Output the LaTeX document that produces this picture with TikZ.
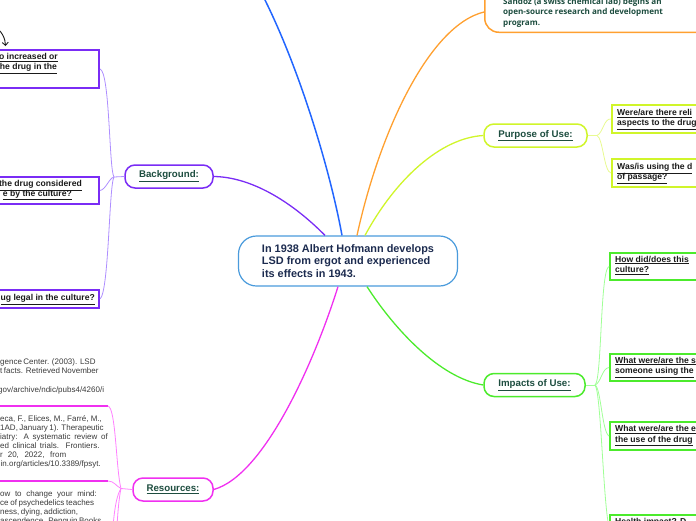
\documentclass[tikz,border=0pt]{standalone}
\usepackage{fontspec}
\setmainfont{Liberation Sans}
\newfontfamily\osans{Open Sans}
\usetikzlibrary{arrows.meta}
\definecolor{cblue}{HTML}{2266FF}
\definecolor{cpurple}{HTML}{7A2CF5}
\definecolor{cpurpleL}{HTML}{AE8EFF}
\definecolor{corange}{HTML}{FFA030}
\definecolor{cyellow}{HTML}{D0F52A}
\definecolor{cyellowL}{HTML}{E8FA90}
\definecolor{cgreen}{HTML}{4CEB2C}
\definecolor{cgreenL}{HTML}{A0FF96}
\definecolor{cmag}{HTML}{F030F0}
\definecolor{cmagL}{HTML}{FF80FF}
\definecolor{cnavy}{HTML}{1C2B4F}
\definecolor{cdkgreen}{HTML}{1D4D3F}
\definecolor{ccentral}{HTML}{4A9BDC}
\definecolor{ctext}{HTML}{1A1A1A}
\definecolor{cref}{HTML}{3A3A3A}
\newcommand{\refline}[2]{\makebox[#1pt][s]{#2}}
\begin{document}
\begin{tikzpicture}[x=1pt,y=-1pt,
  central/.style={draw=ccentral, line width=1.2pt, rounded corners=18pt, fill=white,
    minimum width=219, minimum height=50, inner sep=0, align=left, text=cnavy,
    font=\bfseries\fontsize{10.9}{12.6}\selectfont},
  branch/.style={line width=1.5pt, rounded corners=10pt, fill=white, minimum height=23,
    inner sep=0, text=cdkgreen, font=\bfseries\fontsize{9.7}{11}\selectfont},
  childbox/.style={line width=2pt, fill=white, inner sep=0},
  qtext/.style={inner sep=0, text=ctext, font=\bfseries\fontsize{8.6}{10.5}\selectfont},
  reftext/.style={inner sep=0, text=cref, font=\fontsize{8}{9}\selectfont, anchor=base west},
  mainline/.style={line width=1.3pt},
  subline/.style={line width=0.8pt},
]
\useasboundingbox (0,0) rectangle (696,520);
\clip (0,0) rectangle (696,520);

% ---------- central ----------
\node[central] (c) at (348,261) {In 1938 Albert Hofmann develops\\LSD from ergot and experienced\\its effects in 1943.};

% ---------- top orange node ----------
\node[draw=corange, line width=1.5pt, rounded corners=14pt, fill=white, anchor=south west,
  minimum width=260, minimum height=60, inner sep=0] (sz) at (484,33) {};
\node[inner sep=0, anchor=base west, align=left, text=cdkgreen,
  font=\osans\bfseries\fontsize{8.1}{10.8}\selectfont] (szt) at (503,25.6)
  {Sandoz (a swiss chemical lab) begins an\\open-source research and development\\program.};
\coordinate (topb) at (264,-2);

% ---------- branch nodes ----------
\node[branch, draw=cpurple, minimum width=88] (bg) at (169,176.5) {\underline{Background:}};
\node[branch, draw=cyellow, minimum width=103] (pu) at (535.5,135.5) {\underline{Purpose of Use:}};
\node[branch, draw=cgreen, minimum width=101] (im) at (534.5,385) {\underline{Impacts of Use:}};
\node[branch, draw=cmag, minimum width=80] (rs) at (173,489.5) {\underline{Resources:}};

% ---------- main connectors ----------
\draw[mainline, cpurple] ([xshift=-23pt]c.north) .. controls (290,200) and (250,177) .. (bg.east);
\draw[line width=1.5pt, cblue] ([xshift=-6pt]c.north) .. controls (330,170) and (300,70) .. (topb);
\draw[mainline, corange] ([xshift=9pt]c.north) .. controls (380,130) and (430,25) .. ([yshift=21pt]sz.south west);
\draw[mainline, cyellow] ([xshift=17pt]c.north) .. controls (395,180) and (440,138) .. (pu.west);
\draw[mainline, cgreen] ([xshift=19pt]c.south) .. controls (395,330) and (440,378) .. (im.west);
\draw[mainline, cmag] ([xshift=-10pt]c.south) .. controls (315,360) and (265,475) .. (rs.east);

% ---------- background children ----------
\node[childbox, draw=cpurple, anchor=north east, minimum width=130, minimum height=38] (bg1) at (100,49) {};
\node[childbox, draw=cpurple, anchor=north east, minimum width=130, minimum height=27] (bg2) at (100,176) {};
\node[childbox, draw=cpurple, anchor=north east, minimum width=130, minimum height=18] (bg3) at (100,289) {};
\node[qtext, anchor=base east] (bg1a) at (58,59.5) {\underline{o increased or}};
\node[qtext, anchor=base east] (bg1b) at (57,69.5) {\underline{he drug in the}};
\node[qtext, anchor=base east] (bg2a) at (82,186.5) {\underline{the drug considered}};
\node[qtext, anchor=base east] (bg2b) at (72,196.5) {\underline{e by the culture?}};
\node[qtext, anchor=base east] (bg3a) at (95,300.5) {\underline{ug legal in the culture?}};
\coordinate (arA) at (0,31);
\coordinate (arB) at (5.5,46);
\draw[line width=0.9pt, ctext, -{Straight Barb[length=3pt,width=6pt]}] (arA) .. controls (3,35) and (5,38) .. (arB);

\coordinate (bgj) at (114,177);
\draw[subline, cpurpleL] (bg.west) -- (bgj);
\draw[subline, cpurpleL] (bgj) .. controls (109,170) and (110,72) .. (bg1.east);
\draw[subline, cpurpleL] (bgj) .. controls (109,178) and (106,189.5) .. (bg2.east);
\draw[subline, cpurpleL] (bgj) .. controls (109,185) and (109,292) .. (bg3.east);

% ---------- purpose children ----------
\node[childbox, draw=cyellow, anchor=north west, minimum width=110, minimum height=28] (pu1) at (611,104) {};
\node[childbox, draw=cyellow, anchor=north west, minimum width=110, minimum height=28] (pu2) at (611,158) {};
\node[qtext, anchor=base west] (pu1a) at (617,115.5) {\underline{Were/are there reli}};
\node[qtext, anchor=base west] (pu1b) at (617,125.5) {\underline{aspects to the drug}};
\node[qtext, anchor=base west] (pu2a) at (617,169.5) {\underline{Was/is using the d}};
\node[qtext, anchor=base west] (pu2b) at (617,179.5) {\underline{of passage?}};
\coordinate (puj) at (597,135.5);
\draw[subline, cyellowL] (pu.east) -- (puj);
\draw[subline, cyellowL] (puj) .. controls (603,133) and (604,118) .. (pu1.west);
\draw[subline, cyellowL] (puj) .. controls (603,138) and (604,172) .. (pu2.west);

% ---------- impacts children ----------
\node[childbox, draw=cgreen, anchor=north west, minimum width=110, minimum height=27] (im1) at (609,252) {};
\node[childbox, draw=cgreen, anchor=north west, minimum width=110, minimum height=27] (im2) at (609,353) {};
\node[childbox, draw=cgreen, anchor=north west, minimum width=110, minimum height=28] (im3) at (609,421) {};
\node[childbox, draw=cgreen, anchor=north west, minimum width=110, minimum height=28] (im4) at (609,513.5) {};
\node[qtext, anchor=base west] (im1a) at (615,262) {\underline{How did/does this}};
\node[qtext, anchor=base west] (im1b) at (615,272.5) {\underline{culture?}};
\node[qtext, anchor=base west] (im2a) at (615,363) {\underline{What were/are the s}};
\node[qtext, anchor=base west] (im2b) at (615,373.5) {\underline{someone using the}};
\node[qtext, anchor=base west] (im3a) at (615,431.5) {\underline{What were/are the e}};
\node[qtext, anchor=base west] (im3b) at (615,442) {\underline{the use of the drug}};
\node[qtext, anchor=base west] (im4a) at (615,524.5) {\underline{Health impact? D}};
\coordinate (imj) at (595,385);
\draw[subline, cgreenL] (im.east) -- (imj);
\draw[subline, cgreenL] (imj) .. controls (602,380) and (600,270) .. (im1.west);
\draw[subline, cgreenL] (imj) .. controls (601,383) and (602,368) .. (im2.west);
\draw[subline, cgreenL] (imj) .. controls (601,388) and (602,432) .. (im3.west);
\draw[subline, cgreenL] (imj) .. controls (601,392) and (603,500) .. ([yshift=-14pt]im4.north west);

% ---------- resources ----------
\node[reftext] (r1a) at (0,364.7) {\refline{95}{gence Center. (2003). LSD}};
\node[reftext] (r1b) at (0,373.7) {\refline{98.3}{t facts. Retrieved November}};
\node[reftext] (r1c) at (-2,392) {gov/archive/ndic/pubs4/4260/i};
\node[reftext] (r2a) at (0,421.7) {\refline{101.7}{eca, F., Elices, M., Farré, M.,}};
\node[reftext] (r2b) at (0,430.7) {\refline{103.3}{1AD, January 1). Therapeutic}};
\node[reftext] (r2c) at (0,439.7) {\refline{107.7}{iatry: A systematic review of}};
\node[reftext] (r2d) at (0,448.7) {\refline{99.3}{ed clinical trials. Frontiers.}};
\node[reftext] (r2e) at (0,457.3) {\refline{66}{r 20, 2022, from}};
\node[reftext] (r2f) at (0.5,466) {in.org/articles/10.3389/fpsyt.};
\node[reftext] (r3a) at (0,496.7) {\refline{96.7}{ow to change your mind:}};
\node[reftext] (r3b) at (0,505.7) {\refline{94}{ce of psychedelics teaches}};
\node[reftext] (r3c) at (0,514.3) {\refline{77.3}{ness, dying, addiction,}};
\node[reftext] (r3d) at (0,523.3) {\refline{99}{ascendence. Penguin Books.}};
\coordinate (r1s) at (-5,406);
\coordinate (r1u) at (108,406);
\coordinate (r2s) at (-5,481);
\coordinate (r2u) at (108,481);
\coordinate (r4e) at (113,526);
\coordinate (r5e) at (117,526);
\draw[line width=1.5pt, cmag] (r1s) -- (r1u);
\draw[line width=1.5pt, cmag] (r2s) -- (r2u);
\coordinate (rsj) at (121,488.5);
\draw[subline, cmagL] (rs.west) -- (rsj);
\draw[subline, cmagL] (rsj) .. controls (116,470) and (116,408) .. (r1u);
\draw[subline, cmagL] (rsj) .. controls (116,486) and (114,481) .. (r2u);
\draw[subline, cmagL] (rsj) .. controls (117,495) and (115,505) .. (r4e);
\draw[subline, cmagL] (rsj) .. controls (119,498) and (118,510) .. (r5e);
\end{tikzpicture}
\end{document}
